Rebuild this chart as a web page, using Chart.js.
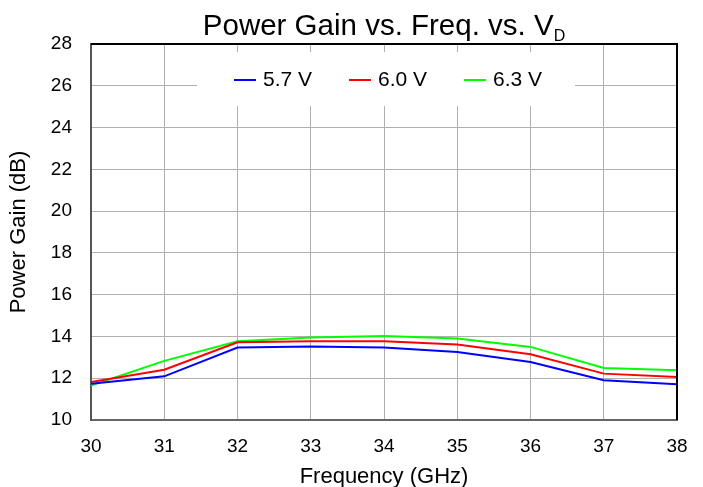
<!DOCTYPE html>
<html>
<head>
<meta charset="utf-8">
<script src="https://cdn.jsdelivr.net/npm/chart.js@4/dist/chart.umd.min.js"></script>
<style>
  html, body { margin: 0; padding: 0; background: #fff; }
  #wrap { width: 703px; height: 487px; }
</style>
</head>
<body>
<div id="wrap"><canvas id="chart"></canvas></div>
<script>
const freqs = [30, 31, 32, 33, 34, 35, 36, 37, 38];
const gain57 = [11.74, 12.09, 13.47, 13.52, 13.47, 13.26, 12.78, 11.9, 11.71];
const gain60 = [11.82, 12.41, 13.72, 13.77, 13.77, 13.61, 13.15, 12.22, 12.06];
const gain63 = [11.65, 12.83, 13.77, 13.95, 14.02, 13.9, 13.5, 12.49, 12.38];
const seriesLabels = ["5.7 V", "6.0 V", "6.3 V"];
const seriesColors = ["#0000ff", "#ff0000", "#00ff00"];
const yTicks = [10, 12, 14, 16, 18, 20, 22, 24, 26, 28];

const FONT = "'Liberation Sans', Arial, sans-serif";

function toPoints(values) {
  return values.map((v, i) => ({ x: freqs[i], y: v }));
}

// title with the subscript D
const titlePlugin = {
  id: "titleSub",
  afterDraw(chart) {
    const ctx = chart.ctx;
    const area = chart.chartArea;
    const main = "Power Gain vs. Freq. vs. V";
    const sub = "D";
    ctx.save();
    ctx.fillStyle = "#000";
    ctx.textBaseline = "alphabetic";
    ctx.font = "29.5px " + FONT;
    const w1 = ctx.measureText(main).width;
    ctx.font = "16px " + FONT;
    const w2 = ctx.measureText(sub).width;
    const x0 = (area.left + area.right) / 2 - (w1 + w2) / 2;
    ctx.font = "29.5px " + FONT;
    ctx.textAlign = "left";
    ctx.fillText(main, x0, 35);
    ctx.font = "16px " + FONT;
    ctx.fillText(sub, x0 + w1, 41);
    ctx.restore();
  },
};

// legend sitting inside the plot on a white box, plus top/right frame
const boxLegendPlugin = {
  id: "boxLegend",
  beforeDatasetsDraw(chart) {
    const ctx = chart.ctx;
    const a = chart.chartArea;
    ctx.save();
    ctx.fillStyle = "#fff";
    ctx.fillRect(a.left + 106, a.top + 8, 378, 54);
    ctx.font = "21px " + FONT;
    ctx.textBaseline = "middle";
    ctx.textAlign = "left";
    const y = a.top + 36;
    chart.data.datasets.forEach((ds, i) => {
      const x = a.left + 143 + i * 115;
      ctx.strokeStyle = ds.borderColor;
      ctx.lineWidth = 2;
      ctx.beginPath();
      ctx.moveTo(x, y);
      ctx.lineTo(x + 22, y);
      ctx.stroke();
      ctx.fillStyle = "#000";
      ctx.fillText(ds.label, x + 29, y);
    });
    ctx.restore();
  },
  afterDatasetsDraw(chart) {
    const ctx = chart.ctx;
    const a = chart.chartArea;
    ctx.save();
    ctx.strokeStyle = "#000";
    ctx.lineWidth = 2;
    ctx.beginPath();
    ctx.moveTo(a.left, a.top);
    ctx.lineTo(a.right, a.top);
    ctx.lineTo(a.right, a.bottom);
    ctx.stroke();
    ctx.restore();
  },
};

const datasets = [gain57, gain60, gain63].map((vals, i) => ({
  label: seriesLabels[i],
  data: toPoints(vals),
  borderColor: seriesColors[i],
  backgroundColor: seriesColors[i],
  borderWidth: 2,
  pointRadius: 0,
  tension: 0,
}));

new Chart(document.getElementById("chart"), {
  type: "line",
  data: { datasets: datasets },
  plugins: [titlePlugin, boxLegendPlugin],
  options: {
    responsive: true,
    maintainAspectRatio: false,
    animation: false,
    layout: { padding: { left: 0, top: 44, right: 26, bottom: 0 } },
    plugins: {
      legend: { display: false },
      title: { display: false },
      tooltip: { enabled: false },
    },
    scales: {
      x: {
        type: "linear",
        min: 30,
        max: 38,
        afterFit: (scale) => { scale.height = 67; },
        ticks: {
          stepSize: 1,
          color: "#000",
          padding: 15,
          font: { family: FONT, size: 19 },
        },
        grid: { color: "#b0b0b0", lineWidth: 1, drawTicks: false },
        border: { color: "#666", width: 2 },
        title: {
          display: true,
          text: "Frequency (GHz)",
          color: "#000",
          font: { family: FONT, size: 22 },
          padding: { top: 0, bottom: -3 },
        },
      },
      y: {
        min: 10,
        max: 28,
        afterFit: (scale) => { scale.width = 91; },
        afterBuildTicks: (scale) => { scale.ticks = yTicks.map((v) => ({ value: v })); },
        ticks: {
          color: "#000",
          padding: 19,
          font: { family: FONT, size: 19 },
        },
        grid: { color: "#b0b0b0", lineWidth: 1, drawTicks: false },
        border: { color: "#555", width: 2 },
        title: {
          display: true,
          text: "Power Gain (dB)",
          color: "#000",
          font: { family: FONT, size: 22 },
          padding: { top: 6, bottom: 0 },
        },
      },
    },
  },
});
</script>
</body>
</html>
